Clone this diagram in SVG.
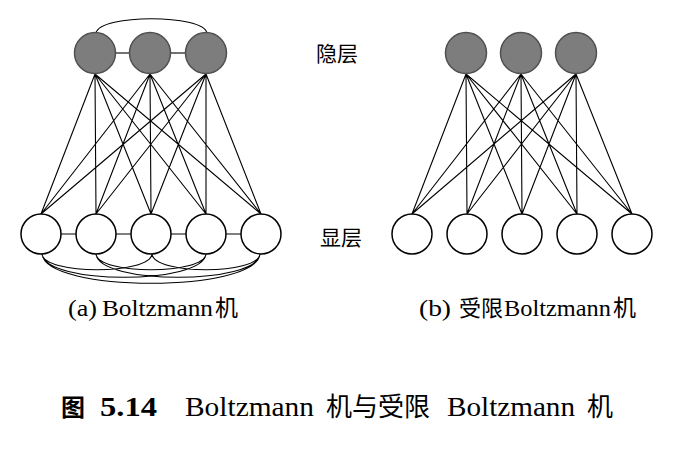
<svg xmlns="http://www.w3.org/2000/svg" width="680" height="450" viewBox="0 0 680 450">
<style>
.h{fill:#7d7d7d;stroke:#505050;stroke-width:1.5}
.v{fill:#fff;stroke:#000;stroke-width:1.5}
.e{fill:none;stroke:#000;stroke-width:1.1}
.g{fill:none;stroke:#444;stroke-width:1.3}
.lat{font-family:"Liberation Serif",serif;fill:#000}
.cjk{font-family:"Noto Sans CJK SC",sans-serif;fill:#000}
</style>
<rect width="680" height="450" fill="#fff"/>
<g id="connectors">
<path class="e" d="M95 74L41 214M95 74L96 214M95 74L151 214M95 74L206 214M95 74L261 214
M150 74L41 214M150 74L96 214M150 74L151 214M150 74L206 214M150 74L261 214
M206 74L41 214M206 74L96 214M206 74L151 214M206 74L206 214M206 74L261 214"/>
<path class="g" d="M115 53H130M171 53H186"/>
<path class="e" d="M96 33C100 14 203 14 207 33"/>
<path class="e" d="M61 234H76M116 234H131M171 234H186M226 234H241"/>
<path class="e" d="M42 254C44 275 150 275 152 254M96 254C98 275 204 275 206 254M152 254C154 275 258 275 260 254
M42 254C45 285 203 285 206 254M96 254C99 285 257 285 260 254M42 254C46 293 256 293 260 254"/>
<path class="e" d="M466 74L412 214M466 74L467 214M466 74L522 214M466 74L577 214M466 74L632 214
M521 74L412 214M521 74L467 214M521 74L522 214M521 74L577 214M521 74L632 214
M576 74L412 214M576 74L467 214M576 74L522 214M576 74L577 214M576 74L632 214"/>
</g>
<g id="bm-h1"><circle class="h" cx="95" cy="53" r="20.5"/></g>
<g id="bm-h2"><circle class="h" cx="150" cy="53" r="20.5"/></g>
<g id="bm-h3"><circle class="h" cx="206" cy="53" r="20.5"/></g>
<g id="bm-v1"><circle class="v" cx="41" cy="234" r="20"/></g>
<g id="bm-v2"><circle class="v" cx="96" cy="234" r="20"/></g>
<g id="bm-v3"><circle class="v" cx="151" cy="234" r="20"/></g>
<g id="bm-v4"><circle class="v" cx="206" cy="234" r="20"/></g>
<g id="bm-v5"><circle class="v" cx="261" cy="234" r="20"/></g>
<g id="rbm-h1"><circle class="h" cx="466" cy="53" r="20.5"/></g>
<g id="rbm-h2"><circle class="h" cx="521" cy="53" r="20.5"/></g>
<g id="rbm-h3"><circle class="h" cx="576" cy="53" r="20.5"/></g>
<g id="rbm-v1"><circle class="v" cx="412" cy="234" r="20"/></g>
<g id="rbm-v2"><circle class="v" cx="467" cy="234" r="20"/></g>
<g id="rbm-v3"><circle class="v" cx="522" cy="234" r="20"/></g>
<g id="rbm-v4"><circle class="v" cx="577" cy="234" r="20"/></g>
<g id="rbm-v5"><circle class="v" cx="632" cy="234" r="20"/></g>
<g id="labels">
<text class="cjk" x="316" y="61" font-size="21">隐层</text>
<text class="cjk" x="320" y="245" font-size="21">显层</text>
<text class="lat" x="68" y="316" font-size="24" textLength="29" lengthAdjust="spacingAndGlyphs">(a)</text>
<text class="lat" x="102" y="316" font-size="24" textLength="111" lengthAdjust="spacingAndGlyphs">Boltzmann</text>
<text class="cjk" x="215" y="316" font-size="23">机</text>
<text class="lat" x="419" y="316" font-size="24" textLength="32" lengthAdjust="spacingAndGlyphs">(b)</text>
<text class="cjk" x="459" y="316" font-size="22">受限</text>
<text class="lat" x="504" y="316" font-size="24" textLength="107" lengthAdjust="spacingAndGlyphs">Boltzmann</text>
<text class="cjk" x="613" y="316" font-size="23">机</text>
<text class="cjk" x="61" y="416" font-size="24" font-weight="bold">图</text>
<text class="lat" x="100" y="416" font-size="27" font-weight="bold" textLength="57" lengthAdjust="spacingAndGlyphs">5.14</text>
<text class="lat" x="185" y="416" font-size="27" textLength="129" lengthAdjust="spacingAndGlyphs">Boltzmann</text>
<text class="cjk" x="326" y="416" font-size="26">机与受限</text>
<text class="lat" x="447" y="416" font-size="27" textLength="128" lengthAdjust="spacingAndGlyphs">Boltzmann</text>
<text class="cjk" x="587" y="416" font-size="26">机</text>
</g>
</svg>
